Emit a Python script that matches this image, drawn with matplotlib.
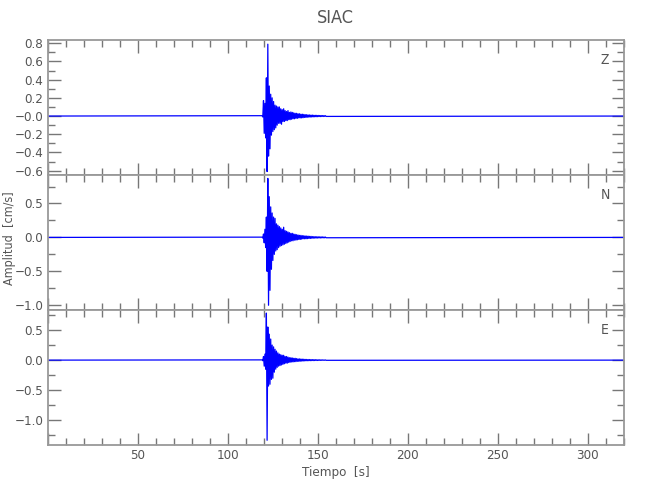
import numpy as np
import matplotlib
matplotlib.use("Agg")
import matplotlib.pyplot as plt
import matplotlib.ticker as ticker
from matplotlib import font_manager

# narrow font like the original, if one is around
names = {f.name for f in font_manager.fontManager.ttflist}
narrow = [n for n in ['Liberation Sans Narrow', 'DejaVu Sans'] if n in names]
plt.rcParams['font.family'] = narrow + ['DejaVu Sans']
plt.rcParams['font.stretch'] = 'condensed'

# sample times of the event window: t0 + dt * i
t0 = 119.2
dt = 0.4
t_end = 320.0

# peak amplitudes (cm/s), alternating sign
amp_z = [0.004, -0.01, 0.17, -0.19, 0.14, -0.24, 0.42, -0.61, 0.79, -0.44,
         0.33, -0.36, 0.24, -0.21, 0.2, -0.17, 0.16, -0.15, 0.12, -0.13,
         0.11, -0.1, 0.1, -0.08, 0.1, -0.08, 0.08, -0.09, 0.07, -0.06,
         0.08, -0.06, 0.06, -0.05, 0.05, -0.05, 0.06, -0.04, 0.04, -0.04,
         0.045, -0.035, 0.04, -0.03, 0.035, -0.03, 0.03, -0.025, 0.03, -0.025,
         0.025, -0.02, 0.025, -0.02, 0.02, -0.02, 0.02, -0.018, 0.018, -0.015,
         0.015, -0.015, 0.015, -0.012, 0.012, -0.012, 0.012, -0.01, 0.01, -0.01,
         0.01, -0.009, 0.009, -0.008, 0.008, -0.008, 0.008, -0.007, 0.007, -0.006,
         0.006, -0.006, 0.006, -0.005, 0.005, -0.005, 0.005, -0.004, 0.004, -0.004]

amp_n = [0.004, -0.01, 0.05, -0.08, 0.12, -0.15, 0.3, -0.5, 0.87, -1.0,
         0.6, -0.78, 0.45, -0.47, 0.36, -0.34, 0.3, -0.25, 0.28, -0.2,
         0.2, -0.18, 0.18, -0.15, 0.16, -0.13, 0.14, -0.12, 0.12, -0.11,
         0.15, -0.1, 0.1, -0.09, 0.09, -0.08, 0.08, -0.07, 0.07, -0.06,
         0.06, -0.05, 0.06, -0.05, 0.05, -0.04, 0.045, -0.04, 0.04, -0.035,
         0.035, -0.03, 0.03, -0.03, 0.03, -0.025, 0.025, -0.02, 0.025, -0.02,
         0.02, -0.02, 0.02, -0.018, 0.018, -0.015, 0.015, -0.015, 0.015, -0.012,
         0.012, -0.012, 0.012, -0.01, 0.01, -0.01, 0.01, -0.009, 0.009, -0.008,
         0.008, -0.008, 0.008, -0.007, 0.007, -0.006, 0.006, -0.006, 0.005, -0.005]

amp_e = [0.004, -0.01, 0.06, -0.1, 0.1, -0.15, 0.78, -1.33, 0.55, -0.43,
         0.43, -0.4, 0.35, -0.32, 0.25, -0.3, 0.22, -0.2, 0.18, -0.15,
         0.15, -0.12, 0.12, -0.1, 0.1, -0.09, 0.09, -0.08, 0.08, -0.07,
         0.08, -0.06, 0.06, -0.05, 0.06, -0.05, 0.05, -0.04, 0.04, -0.035,
         0.04, -0.03, 0.035, -0.03, 0.03, -0.025, 0.03, -0.025, 0.025, -0.02,
         0.02, -0.02, 0.02, -0.018, 0.018, -0.015, 0.015, -0.015, 0.015, -0.012,
         0.012, -0.012, 0.012, -0.01, 0.01, -0.01, 0.01, -0.009, 0.009, -0.008,
         0.008, -0.008, 0.008, -0.007, 0.007, -0.006, 0.006, -0.006, 0.005, -0.005,
         0.005, -0.004, 0.004, -0.004, 0.004, -0.003, 0.003, -0.003, 0.003, -0.003]

components = ['Z', 'N', 'E']
ylims = [(-0.648, 0.836), (-1.07, 0.92), (-1.40, 0.84)]
ymajor = [0.2, 0.5, 0.5]
yminor = [0.1, 0.25, 0.25]

grey = '#999999'
txt = '#555555'

fig = plt.figure(figsize=(6.5, 5), dpi=100)
left, width = 47.5 / 650, 576 / 650
tops = [40, 175, 309.5]
h = 135 / 500

def fmt_factory(neg_zero):
    def f(v, p):
        if abs(v) < 1e-9:
            return '\u22120.0' if neg_zero else '0.0'
        return f'{v:.1f}'.replace('-', '\u2212')
    return f

axes = []
for k, (comp, amps) in enumerate(zip(components, [amp_z, amp_n, amp_e])):
    bottom = 1 - (tops[k] + 135) / 500
    ax = fig.add_axes([left, bottom, width, h])
    axes.append(ax)
    t = t0 + dt * np.arange(len(amps))
    tt = np.concatenate([[0.0], t, [t_end]])
    yy = np.concatenate([[0.0], amps, [0.0]])
    ax.plot(tt, yy, color='#0000ff', lw=0.9)
    ax.set_xlim(0, 320)
    ax.set_ylim(*ylims[k])
    ax.xaxis.set_major_locator(ticker.MultipleLocator(50))
    ax.xaxis.set_minor_locator(ticker.MultipleLocator(10))
    ax.xaxis.set_major_formatter(ticker.FuncFormatter(lambda v, p: '' if v == 0 else f'{v:.0f}'))
    ax.yaxis.set_major_locator(ticker.MultipleLocator(ymajor[k]))
    ax.yaxis.set_minor_locator(ticker.MultipleLocator(yminor[k]))
    ax.yaxis.set_major_formatter(ticker.FuncFormatter(fmt_factory(k == 0)))
    ax.tick_params(which='both', direction='in', top=True, right=True,
                   color='#777777', labelcolor=txt, labelsize=9.5, pad=3)
    ax.tick_params(which='major', length=9, width=1)
    ax.tick_params(which='minor', length=5, width=1)
    if k < 2:
        ax.tick_params(labelbottom=False)
    for s in ax.spines.values():
        s.set_color(grey)
        s.set_linewidth(1.3)
    ax.text(0.968, 0.85, comp, transform=ax.transAxes, ha='center', va='center',
            fontsize=10, color=txt)

axes[-1].set_xlabel('Tiempo  [s]', fontsize=9.5, color=txt, labelpad=3)
fig.text(10 / 650, 1 - 238 / 500, 'Amplitud  [cm/s]', rotation=90, ha='center',
         va='center', fontsize=9, color=txt)
axes[0].set_title('SIAC', fontsize=13, color=txt, pad=12)

fig.savefig('out.png', dpi=100)
